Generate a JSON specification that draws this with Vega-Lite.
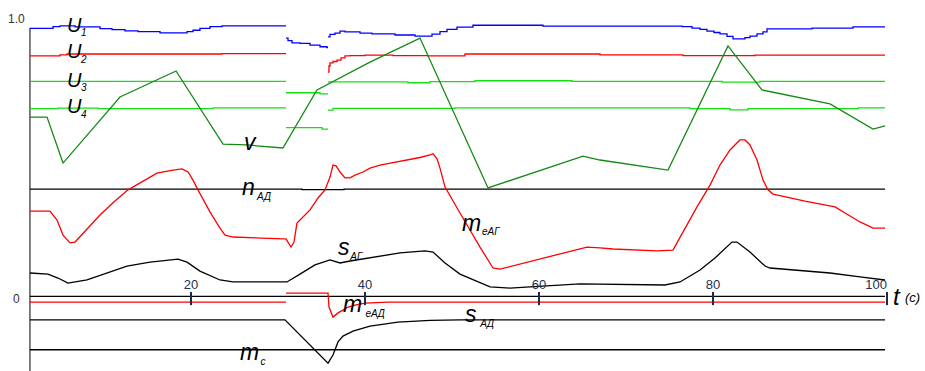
{
"$schema":"https://vega.github.io/schema/vega-lite/v6.json",
"width":925,"height":371,"autosize":"none","padding":0,
"config":{"view":{"stroke":null},"font":"Liberation Sans"},
"datasets":{
"steps":[
{"s":"U1","g":"U1a","t":1.49,"v":0.963},{"s":"U1","g":"U1a","t":4.14,"v":0.969},{"s":"U1","g":"U1a","t":4.94,"v":0.972},{"s":"U1","g":"U1a","t":6.67,"v":0.968},{"s":"U1","g":"U1a","t":9.54,"v":0.962},{"s":"U1","g":"U1a","t":10.92,"v":0.958},{"s":"U1","g":"U1a","t":12.41,"v":0.954},{"s":"U1","g":"U1a","t":13.91,"v":0.951},{"s":"U1","g":"U1a","t":16.44,"v":0.947},{"s":"U1","g":"U1a","t":19.54,"v":0.951},{"s":"U1","g":"U1a","t":20.23,"v":0.956},{"s":"U1","g":"U1a","t":21.03,"v":0.963},{"s":"U1","g":"U1a","t":22.18,"v":0.969},{"s":"U1","g":"U1a","t":23.56,"v":0.972},{"s":"U1","g":"U1a","t":30.92,"v":0.972},
{"s":"U1","g":"U1b","t":30.92,"v":0.928},{"s":"U1","g":"U1b","t":31.15,"v":0.919},{"s":"U1","g":"U1b","t":31.61,"v":0.911},{"s":"U1","g":"U1b","t":32.53,"v":0.909},{"s":"U1","g":"U1b","t":33.68,"v":0.903},{"s":"U1","g":"U1b","t":34.83,"v":0.897},{"s":"U1","g":"U1b","t":35.63,"v":0.894},{"s":"U1","g":"U1b","t":35.75,"v":0.894},
{"s":"U1","g":"U1c","t":35.75,"v":0.932},{"s":"U1","g":"U1c","t":35.98,"v":0.941},{"s":"U1","g":"U1c","t":36.55,"v":0.946},{"s":"U1","g":"U1c","t":37.13,"v":0.953},{"s":"U1","g":"U1c","t":37.70,"v":0.950},{"s":"U1","g":"U1c","t":39.43,"v":0.946},{"s":"U1","g":"U1c","t":40.80,"v":0.943},{"s":"U1","g":"U1c","t":43.45,"v":0.939},{"s":"U1","g":"U1c","t":45.75,"v":0.935},{"s":"U1","g":"U1c","t":47.70,"v":0.942},{"s":"U1","g":"U1c","t":48.62,"v":0.951},{"s":"U1","g":"U1c","t":49.43,"v":0.959},{"s":"U1","g":"U1c","t":50.57,"v":0.967},{"s":"U1","g":"U1c","t":52.41,"v":0.974},{"s":"U1","g":"U1c","t":60.46,"v":0.971},{"s":"U1","g":"U1c","t":76.44,"v":0.969},{"s":"U1","g":"U1c","t":77.59,"v":0.964},{"s":"U1","g":"U1c","t":78.51,"v":0.959},{"s":"U1","g":"U1c","t":79.31,"v":0.953},{"s":"U1","g":"U1c","t":80.11,"v":0.948},{"s":"U1","g":"U1c","t":80.80,"v":0.943},{"s":"U1","g":"U1c","t":81.61,"v":0.934},{"s":"U1","g":"U1c","t":82.30,"v":0.925},{"s":"U1","g":"U1c","t":83.68,"v":0.930},{"s":"U1","g":"U1c","t":84.25,"v":0.935},{"s":"U1","g":"U1c","t":85.06,"v":0.943},{"s":"U1","g":"U1c","t":85.75,"v":0.950},{"s":"U1","g":"U1c","t":86.21,"v":0.961},{"s":"U1","g":"U1c","t":91.38,"v":0.964},{"s":"U1","g":"U1c","t":96.09,"v":0.968},{"s":"U1","g":"U1c","t":99.77,"v":0.968},
{"s":"U2","g":"U2a","t":1.49,"v":0.864},{"s":"U2","g":"U2a","t":4.94,"v":0.868},{"s":"U2","g":"U2a","t":5.75,"v":0.871},{"s":"U2","g":"U2a","t":23.56,"v":0.872},{"s":"U2","g":"U2a","t":30.92,"v":0.872},
{"s":"U2","g":"U2b","t":35.75,"v":0.806},{"s":"U2","g":"U2b","t":35.86,"v":0.828},{"s":"U2","g":"U2b","t":35.98,"v":0.839},{"s":"U2","g":"U2b","t":36.32,"v":0.844},{"s":"U2","g":"U2b","t":36.78,"v":0.849},{"s":"U2","g":"U2b","t":37.24,"v":0.857},{"s":"U2","g":"U2b","t":37.70,"v":0.864},{"s":"U2","g":"U2b","t":38.28,"v":0.865},{"s":"U2","g":"U2b","t":40.00,"v":0.867},{"s":"U2","g":"U2b","t":43.22,"v":0.865},{"s":"U2","g":"U2b","t":47.24,"v":0.864},{"s":"U2","g":"U2b","t":51.49,"v":0.871},{"s":"U2","g":"U2b","t":67.01,"v":0.868},{"s":"U2","g":"U2b","t":76.55,"v":0.865},{"s":"U2","g":"U2b","t":84.83,"v":0.867},{"s":"U2","g":"U2b","t":99.77,"v":0.867},
{"s":"U3","g":"U3a","t":1.49,"v":0.773},{"s":"U3","g":"U3a","t":30.92,"v":0.773},
{"s":"U3","g":"U3b","t":30.92,"v":0.732},{"s":"U3","g":"U3b","t":34.83,"v":0.728},{"s":"U3","g":"U3b","t":35.75,"v":0.728},
{"s":"U3","g":"U3c","t":35.75,"v":0.771},{"s":"U3","g":"U3c","t":44.94,"v":0.768},{"s":"U3","g":"U3c","t":47.47,"v":0.772},{"s":"U3","g":"U3c","t":52.64,"v":0.775},{"s":"U3","g":"U3c","t":63.79,"v":0.773},{"s":"U3","g":"U3c","t":81.03,"v":0.770},{"s":"U3","g":"U3c","t":85.40,"v":0.773},{"s":"U3","g":"U3c","t":99.77,"v":0.773},
{"s":"U4","g":"U4a","t":1.49,"v":0.675},{"s":"U4","g":"U4a","t":4.71,"v":0.677},{"s":"U4","g":"U4a","t":9.31,"v":0.675},{"s":"U4","g":"U4a","t":22.53,"v":0.678},{"s":"U4","g":"U4a","t":30.92,"v":0.678},
{"s":"U4","g":"U4b","t":30.92,"v":0.607},{"s":"U4","g":"U4b","t":35.06,"v":0.602},{"s":"U4","g":"U4b","t":35.75,"v":0.602},
{"s":"U4","g":"U4c","t":35.75,"v":0.670},{"s":"U4","g":"U4c","t":36.32,"v":0.676},{"s":"U4","g":"U4c","t":50.34,"v":0.678},{"s":"U4","g":"U4c","t":77.36,"v":0.675},{"s":"U4","g":"U4c","t":81.95,"v":0.671},{"s":"U4","g":"U4c","t":84.02,"v":0.675},{"s":"U4","g":"U4c","t":96.67,"v":0.678},{"s":"U4","g":"U4c","t":99.77,"v":0.678},
{"s":"nAD","g":"nAD","t":1.49,"v":0.387},{"s":"nAD","g":"nAD","t":32.76,"v":0.385},{"s":"nAD","g":"nAD","t":37.59,"v":0.387},{"s":"nAD","g":"nAD","t":99.77,"v":0.387},
{"s":"mc","g":"mc","t":1.49,"v":-0.189},{"s":"mc","g":"mc","t":99.77,"v":-0.189},
{"s":"meAD","g":"meADa","t":1.49,"v":-0.018},{"s":"meAD","g":"meADa","t":30.92,"v":-0.018}
],
"curves":[
{"s":"v","g":"v","t":1.49,"v":0.645},{"s":"v","g":"v","t":3.45,"v":0.645},{"s":"v","g":"v","t":5.29,"v":0.480},{"s":"v","g":"v","t":11.84,"v":0.717},{"s":"v","g":"v","t":18.28,"v":0.810},{"s":"v","g":"v","t":23.68,"v":0.548},{"s":"v","g":"v","t":26.44,"v":0.545},{"s":"v","g":"v","t":30.57,"v":0.534},{"s":"v","g":"v","t":34.48,"v":0.742},{"s":"v","g":"v","t":40.57,"v":0.842},{"s":"v","g":"v","t":46.32,"v":0.928},{"s":"v","g":"v","t":54.14,"v":0.391},{"s":"v","g":"v","t":65.06,"v":0.505},{"s":"v","g":"v","t":67.01,"v":0.491},{"s":"v","g":"v","t":74.83,"v":0.455},{"s":"v","g":"v","t":81.72,"v":0.900},{"s":"v","g":"v","t":85.63,"v":0.742},{"s":"v","g":"v","t":93.45,"v":0.692},{"s":"v","g":"v","t":98.39,"v":0.602},{"s":"v","g":"v","t":99.77,"v":0.613},
{"s":"meAG","g":"meAG","t":1.49,"v":0.308},{"s":"meAG","g":"meAG","t":3.79,"v":0.308},{"s":"meAG","g":"meAG","t":4.60,"v":0.276},{"s":"meAG","g":"meAG","t":5.29,"v":0.222},{"s":"meAG","g":"meAG","t":6.09,"v":0.194},{"s":"meAG","g":"meAG","t":6.67,"v":0.197},{"s":"meAG","g":"meAG","t":9.54,"v":0.294},{"s":"meAG","g":"meAG","t":11.26,"v":0.344},{"s":"meAG","g":"meAG","t":12.76,"v":0.384},{"s":"meAG","g":"meAG","t":16.09,"v":0.444},{"s":"meAG","g":"meAG","t":17.93,"v":0.455},{"s":"meAG","g":"meAG","t":18.97,"v":0.459},{"s":"meAG","g":"meAG","t":19.66,"v":0.448},{"s":"meAG","g":"meAG","t":20.23,"v":0.419},{"s":"meAG","g":"meAG","t":20.80,"v":0.384},{"s":"meAG","g":"meAG","t":22.18,"v":0.305},{"s":"meAG","g":"meAG","t":23.33,"v":0.247},{"s":"meAG","g":"meAG","t":23.91,"v":0.222},{"s":"meAG","g":"meAG","t":24.83,"v":0.215},{"s":"meAG","g":"meAG","t":30.57,"v":0.208},{"s":"meAG","g":"meAG","t":30.92,"v":0.208},{"s":"meAG","g":"meAG","t":31.49,"v":0.179},{"s":"meAG","g":"meAG","t":31.84,"v":0.197},{"s":"meAG","g":"meAG","t":32.18,"v":0.265},{"s":"meAG","g":"meAG","t":32.53,"v":0.276},{"s":"meAG","g":"meAG","t":33.68,"v":0.312},{"s":"meAG","g":"meAG","t":34.60,"v":0.355},{"s":"meAG","g":"meAG","t":35.40,"v":0.384},{"s":"meAG","g":"meAG","t":35.98,"v":0.430},{"s":"meAG","g":"meAG","t":36.32,"v":0.473},{"s":"meAG","g":"meAG","t":36.67,"v":0.470},{"s":"meAG","g":"meAG","t":37.13,"v":0.448},{"s":"meAG","g":"meAG","t":37.70,"v":0.427},{"s":"meAG","g":"meAG","t":38.28,"v":0.427},{"s":"meAG","g":"meAG","t":38.85,"v":0.437},{"s":"meAG","g":"meAG","t":39.77,"v":0.448},{"s":"meAG","g":"meAG","t":40.57,"v":0.462},{"s":"meAG","g":"meAG","t":41.72,"v":0.473},{"s":"meAG","g":"meAG","t":46.32,"v":0.500},{"s":"meAG","g":"meAG","t":47.47,"v":0.509},{"s":"meAG","g":"meAG","t":47.82,"v":0.513},{"s":"meAG","g":"meAG","t":48.28,"v":0.495},{"s":"meAG","g":"meAG","t":48.62,"v":0.462},{"s":"meAG","g":"meAG","t":49.20,"v":0.394},{"s":"meAG","g":"meAG","t":50.92,"v":0.301},{"s":"meAG","g":"meAG","t":53.22,"v":0.179},{"s":"meAG","g":"meAG","t":54.71,"v":0.104},{"s":"meAG","g":"meAG","t":55.52,"v":0.100},{"s":"meAG","g":"meAG","t":65.52,"v":0.179},{"s":"meAG","g":"meAG","t":67.01,"v":0.176},{"s":"meAG","g":"meAG","t":68.51,"v":0.172},{"s":"meAG","g":"meAG","t":73.56,"v":0.165},{"s":"meAG","g":"meAG","t":75.40,"v":0.168},{"s":"meAG","g":"meAG","t":75.86,"v":0.194},{"s":"meAG","g":"meAG","t":78.16,"v":0.323},{"s":"meAG","g":"meAG","t":79.66,"v":0.401},{"s":"meAG","g":"meAG","t":80.80,"v":0.473},{"s":"meAG","g":"meAG","t":81.95,"v":0.527},{"s":"meAG","g":"meAG","t":83.10,"v":0.563},{"s":"meAG","g":"meAG","t":83.68,"v":0.563},{"s":"meAG","g":"meAG","t":84.25,"v":0.545},{"s":"meAG","g":"meAG","t":85.06,"v":0.491},{"s":"meAG","g":"meAG","t":85.75,"v":0.419},{"s":"meAG","g":"meAG","t":86.32,"v":0.384},{"s":"meAG","g":"meAG","t":86.90,"v":0.369},{"s":"meAG","g":"meAG","t":90.57,"v":0.344},{"s":"meAG","g":"meAG","t":94.02,"v":0.323},{"s":"meAG","g":"meAG","t":96.90,"v":0.269},{"s":"meAG","g":"meAG","t":98.39,"v":0.247},{"s":"meAG","g":"meAG","t":99.77,"v":0.247},
{"s":"sAG","g":"sAG","t":1.49,"v":0.086},{"s":"sAG","g":"sAG","t":3.56,"v":0.082},{"s":"sAG","g":"sAG","t":4.71,"v":0.068},{"s":"sAG","g":"sAG","t":5.86,"v":0.050},{"s":"sAG","g":"sAG","t":8.05,"v":0.061},{"s":"sAG","g":"sAG","t":12.64,"v":0.111},{"s":"sAG","g":"sAG","t":15.29,"v":0.125},{"s":"sAG","g":"sAG","t":18.51,"v":0.136},{"s":"sAG","g":"sAG","t":19.54,"v":0.125},{"s":"sAG","g":"sAG","t":21.03,"v":0.093},{"s":"sAG","g":"sAG","t":23.33,"v":0.061},{"s":"sAG","g":"sAG","t":24.83,"v":0.054},{"s":"sAG","g":"sAG","t":31.03,"v":0.054},{"s":"sAG","g":"sAG","t":32.53,"v":0.082},{"s":"sAG","g":"sAG","t":34.25,"v":0.115},{"s":"sAG","g":"sAG","t":35.98,"v":0.133},{"s":"sAG","g":"sAG","t":37.13,"v":0.122},{"s":"sAG","g":"sAG","t":38.28,"v":0.129},{"s":"sAG","g":"sAG","t":44.02,"v":0.158},{"s":"sAG","g":"sAG","t":46.90,"v":0.165},{"s":"sAG","g":"sAG","t":47.82,"v":0.161},{"s":"sAG","g":"sAG","t":49.20,"v":0.122},{"s":"sAG","g":"sAG","t":50.92,"v":0.082},{"s":"sAG","g":"sAG","t":54.37,"v":0.036},{"s":"sAG","g":"sAG","t":56.67,"v":0.032},{"s":"sAG","g":"sAG","t":58.97,"v":0.036},{"s":"sAG","g":"sAG","t":64.71,"v":0.047},{"s":"sAG","g":"sAG","t":74.48,"v":0.043},{"s":"sAG","g":"sAG","t":76.21,"v":0.054},{"s":"sAG","g":"sAG","t":78.51,"v":0.097},{"s":"sAG","g":"sAG","t":80.23,"v":0.140},{"s":"sAG","g":"sAG","t":82.18,"v":0.197},{"s":"sAG","g":"sAG","t":82.76,"v":0.197},{"s":"sAG","g":"sAG","t":84.25,"v":0.161},{"s":"sAG","g":"sAG","t":85.98,"v":0.111},{"s":"sAG","g":"sAG","t":86.55,"v":0.104},{"s":"sAG","g":"sAG","t":93.45,"v":0.086},{"s":"sAG","g":"sAG","t":96.90,"v":0.072},{"s":"sAG","g":"sAG","t":99.77,"v":0.061},
{"s":"meAD","g":"meADb","t":30.92,"v":0.014},{"s":"meAD","g":"meADb","t":35.75,"v":0.014},{"s":"meAD","g":"meADb","t":35.86,"v":-0.036},{"s":"meAD","g":"meADb","t":36.32,"v":-0.072},{"s":"meAD","g":"meADb","t":36.90,"v":-0.057},{"s":"meAD","g":"meADb","t":37.47,"v":-0.047},{"s":"meAD","g":"meADb","t":38.05,"v":-0.036},{"s":"meAD","g":"meADb","t":38.85,"v":-0.029},{"s":"meAD","g":"meADb","t":40.00,"v":-0.022},{"s":"meAD","g":"meADb","t":42.64,"v":-0.018},{"s":"meAD","g":"meADb","t":99.77,"v":-0.018},
{"s":"sAD","g":"sAD","t":1.49,"v":-0.082},{"s":"sAD","g":"sAD","t":30.80,"v":-0.082},{"s":"sAD","g":"sAD","t":35.75,"v":-0.237},{"s":"sAD","g":"sAD","t":36.32,"v":-0.208},{"s":"sAD","g":"sAD","t":36.90,"v":-0.161},{"s":"sAD","g":"sAD","t":37.47,"v":-0.140},{"s":"sAD","g":"sAD","t":38.62,"v":-0.122},{"s":"sAD","g":"sAD","t":40.57,"v":-0.104},{"s":"sAD","g":"sAD","t":43.79,"v":-0.090},{"s":"sAD","g":"sAD","t":47.47,"v":-0.084},{"s":"sAD","g":"sAD","t":50.92,"v":-0.082},{"s":"sAD","g":"sAD","t":99.77,"v":-0.082}
],
"labels":[
{"lab":"U","t":5.75,"v":0.950,"fs":20},{"lab":"1","t":7.36,"v":0.935,"fs":10},
{"lab":"U","t":5.75,"v":0.857,"fs":20},{"lab":"2","t":7.36,"v":0.839,"fs":10},
{"lab":"U","t":5.75,"v":0.753,"fs":20},{"lab":"3","t":7.36,"v":0.738,"fs":10},
{"lab":"U","t":5.75,"v":0.659,"fs":20},{"lab":"4","t":7.36,"v":0.642,"fs":10},
{"lab":"v","t":26.09,"v":0.527,"fs":23},
{"lab":"n","t":25.86,"v":0.366,"fs":23},{"lab":"АД","t":27.60,"v":0.348,"fs":10},
{"lab":"m","t":51.15,"v":0.237,"fs":23},{"lab":"еАГ","t":53.45,"v":0.222,"fs":10},
{"lab":"s","t":36.90,"v":0.151,"fs":23},{"lab":"АГ","t":38.30,"v":0.133,"fs":10},
{"lab":"m","t":37.47,"v":-0.054,"fs":23},{"lab":"еАД","t":40.05,"v":-0.072,"fs":10},
{"lab":"s","t":51.49,"v":-0.090,"fs":23},{"lab":"АД","t":53.25,"v":-0.108,"fs":10},
{"lab":"m","t":25.63,"v":-0.226,"fs":23},{"lab":"с","t":28.00,"v":-0.244,"fs":10},
{"lab":"t","t":100.69,"v":-0.029,"fs":24},{"lab":"(с)","t":102.07,"v":-0.018,"fs":13}
],
"ylabels":[{"lab":"1.0","t":-1.03,"v":0.982},{"lab":"0","t":-0.46,"v":-0.022}],
"ticks":[{"t":20,"v":0.018,"v2":-0.029,"lab":"20","lv":0.027},{"t":40,"v":0.018,"v2":-0.029,"lab":"40","lv":0.027},{"t":60,"v":0.018,"v2":-0.029,"lab":"60","lv":0.027},{"t":80,"v":0.018,"v2":-0.029,"lab":"80","lv":0.027},{"t":100,"v":0.018,"v2":-0.029,"lab":"100","lv":0.027}],
"axes":[{"t":1.49,"t2":99.77,"v":0.002}],
"yaxis":[{"t":1.49,"v":0.964,"v2":-0.2652}]
},
"encoding":{
"x":{"field":"t","type":"quantitative","scale":{"domain":[-1.954,104.368],"nice":false,"zero":false},"axis":null},
"y":{"field":"v","type":"quantitative","scale":{"domain":[-0.2652,1.0645],"nice":false,"zero":false},"axis":null}
},
"layer":[
{"data":{"name":"yaxis"},"mark":{"type":"rule","color":"#000","strokeWidth":1},"encoding":{"y2":{"field":"v2"}}},
{"data":{"name":"axes"},"mark":{"type":"rule","color":"#000","strokeWidth":1.2},"encoding":{"x2":{"field":"t2"}}},
{"data":{"name":"steps"},"mark":{"type":"line","interpolate":"step-after","strokeWidth":1.3},
 "encoding":{"color":{"field":"s","type":"nominal","scale":{"domain":["U1","U2","U3","U4","v","nAD","meAG","sAG","meAD","sAD","mc"],"range":["#0000ff","#ff0000","#11e011","#11e011","#138a13","#000000","#ff0000","#000000","#ff0000","#000000","#000000"]},"legend":null},"detail":{"field":"g"},"order":{"field":"t","type":"quantitative"}}},
{"data":{"name":"curves"},"mark":{"type":"line","strokeWidth":1.3},
 "encoding":{"color":{"field":"s","type":"nominal","scale":{"domain":["U1","U2","U3","U4","v","nAD","meAG","sAG","meAD","sAD","mc"],"range":["#0000ff","#ff0000","#11e011","#11e011","#138a13","#000000","#ff0000","#000000","#ff0000","#000000","#000000"]},"legend":null},"detail":{"field":"g"},"order":{"field":"t","type":"quantitative"}}},
{"data":{"name":"ticks"},"mark":{"type":"rule","color":"#1c2b4a","strokeWidth":2},"encoding":{"y2":{"field":"v2"}}},
{"data":{"name":"ticks"},"transform":[{"filter":"datum.t < 100"}],"mark":{"type":"text","align":"center","baseline":"alphabetic","fontSize":13,"color":"#22324f"},"encoding":{"y":{"field":"lv","type":"quantitative"},"text":{"field":"lab"}}},
{"data":{"name":"ticks"},"transform":[{"filter":"datum.t == 100"}],"mark":{"type":"text","align":"right","baseline":"alphabetic","fontSize":13,"color":"#22324f"},"encoding":{"y":{"field":"lv","type":"quantitative"},"text":{"field":"lab"}}},
{"data":{"name":"ylabels"},"mark":{"type":"text","align":"left","baseline":"alphabetic","fontSize":12,"color":"#333333"},"encoding":{"text":{"field":"lab"}}},
{"data":{"name":"labels"},"mark":{"type":"text","align":"left","baseline":"alphabetic","fontStyle":"italic","color":"#000000"},"encoding":{"text":{"field":"lab"},"size":{"field":"fs","type":"quantitative","scale":null}}}
]
}
